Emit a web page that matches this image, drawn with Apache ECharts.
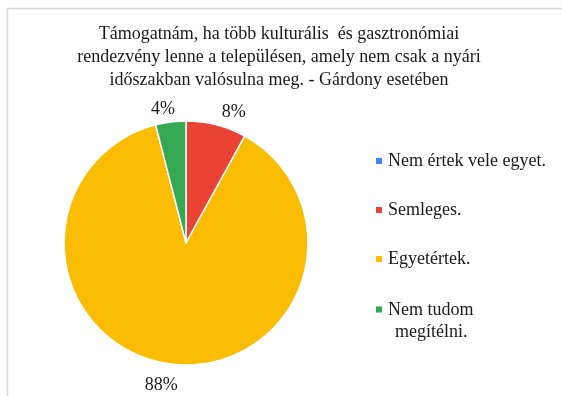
<!DOCTYPE html>
<html>
<head>
<meta charset="utf-8">
<script src="https://cdn.jsdelivr.net/npm/echarts@6/dist/echarts.min.js"></script>
<style>
  html, body { margin: 0; padding: 0; background: #fff; }
  #chart { width: 562px; height: 396px; }
</style>
</head>
<body>
<div id="chart"></div>
<script>
// Survey answers and their shares (percent)
const categories = ['Nem értek vele egyet.', 'Semleges.', 'Egyetértek.', 'Nem tudom megítélni.'];
const shares = [0, 8, 88, 4];
const colors = ['#4285F4', '#EA4335', '#FBBC04', '#34A853'];
const titleText = 'Támogatnám, ha több kulturális  és gasztronómiai\nrendezvény lenne a településen, amely nem csak a nyári\nidőszakban valósulna meg. - Gárdony esetében';

const FONT = '"Liberation Serif", "Times New Roman", serif';
const CX = 186, CY = 243, R = 122;

// mid angle of every slice, clockwise from 12 o'clock
const total = shares.reduce((a, b) => a + b, 0);
const midAngles = [];
let acc = 0;
shares.forEach(v => { midAngles.push((acc + v / 2) / total * 2 * Math.PI); acc += v; });
// label placement tweaks: angular nudge (rad) and distance beyond the rim (px)
const labelNudge = [0, 0.1, 0.047, -0.045];
const labelGap = [19, 17, 22, 14];

const chart = echarts.init(document.getElementById('chart'), null, { renderer: 'canvas' });

const legendText = { fontFamily: FONT, fontSize: 18, color: '#1a1a1a', lineHeight: 22 };

chart.setOption({
  backgroundColor: '#fff',
  animation: false,
  title: {
    text: titleText,
    left: 274,
    top: 18,
    textAlign: 'center',
    textStyle: { fontFamily: FONT, fontSize: 18, fontWeight: 'normal', color: '#1a1a1a', lineHeight: 23 }
  },
  graphic: [{
    type: 'rect',
    shape: { x: 7.5, y: 8.5, width: 600, height: 420 },
    style: { fill: 'none', stroke: '#d9d9d9', lineWidth: 1.5 },
    silent: true
  }],
  legend: [{
    orient: 'vertical',
    left: 376,
    top: 150,
    padding: 0,
    itemWidth: 6,
    itemHeight: 6,
    itemGap: 27,
    icon: 'rect',
    itemStyle: { borderWidth: 0 },
    data: categories.slice(0, 3),
    textStyle: Object.assign({ padding: [0, 0, 0, 1] }, legendText)
  }, {
    orient: 'vertical',
    left: 376,
    top: 299,
    padding: 0,
    itemWidth: 6,
    itemHeight: 29,
    symbolKeepAspect: false,
    itemStyle: { borderWidth: 0 },
    // square sits at the top of the icon box so it lines up with the first text line
    icon: 'path://M0,0h10v10h-10zM0,48',
    data: categories.slice(3),
    formatter: name => name.replace(' megítélni.', '\n{i|}megítélni.'),
    textStyle: Object.assign({
      padding: [0, 0, 0, 1],
      rich: { i: { width: 7, fontFamily: FONT, fontSize: 18, lineHeight: 22 } }
    }, legendText)
  }],
  series: [{
    type: 'pie',
    center: [CX, CY],
    radius: R,
    startAngle: 90,
    clockwise: true,
    avoidLabelOverlap: false,
    itemStyle: { borderColor: '#fff', borderWidth: 1.5 },
    label: {
      show: true,
      position: 'outside',
      formatter: p => p.value + '%',
      fontFamily: FONT,
      fontSize: 18,
      color: '#1a1a1a'
    },
    labelLine: { show: false },
    labelLayout: p => {
      const i = p.dataIndex;
      const a = midAngles[i] + labelNudge[i];
      const d = R + labelGap[i];
      return {
        x: CX + d * Math.sin(a),
        y: CY - d * Math.cos(a),
        align: 'center',
        verticalAlign: 'middle'
      };
    },
    data: categories.map((name, i) => ({
      name,
      value: shares[i],
      itemStyle: { color: colors[i] },
      label: { show: shares[i] > 0 }
    }))
  }]
});
</script>
</body>
</html>
